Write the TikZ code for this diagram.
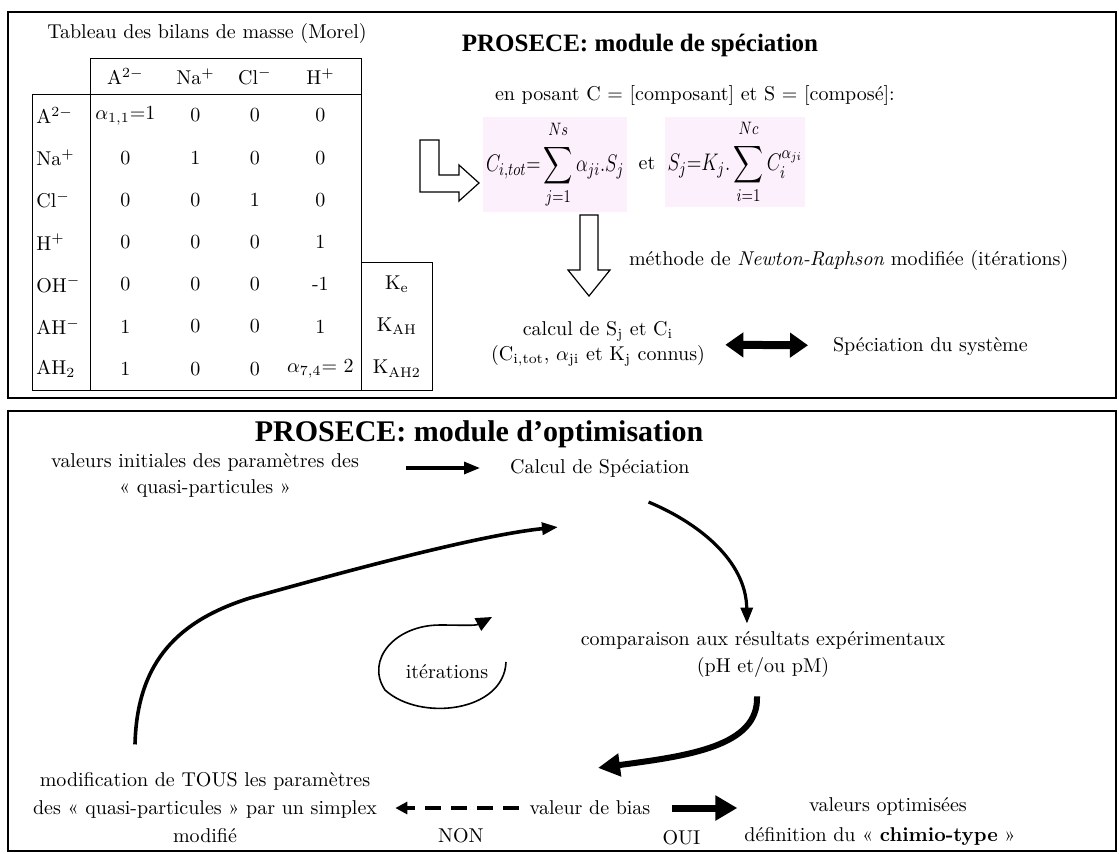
\documentclass[tikz,border=0pt]{standalone}
\usepackage{amsmath}
\usepackage{amssymb}
\usepackage{graphicx}
\usepackage{fontspec}
\newfontfamily\titlefont{Liberation Serif}
\usetikzlibrary{matrix}
\usetikzlibrary{arrows.meta}
\definecolor{formpink}{RGB}{252,240,252}

\begin{document}
\begin{tikzpicture}[x=0.5pt,y=-0.5pt,
  every node/.style={font=\fontsize{10}{13}\selectfont},
  txt/.style={inner sep=1pt, align=center},
  head/.style={font=\titlefont\bfseries\fontsize{15}{17}\selectfont},
  formula/.style={fill=formpink, inner sep=0pt, font=\fontsize{13}{15}\selectfont},
  hollow/.style={draw, line width=0.6pt, fill=white},
  flow/.style={-{Triangle[length=8pt,width=6pt]}, line width=1.6pt},
  fat/.style={-{Triangle[length=11pt,width=11pt]}, line width=3pt},
  oui/.style={-{Triangle[length=11pt,width=12pt]}, line width=3.5pt},
  both/.style={{Triangle[length=9pt,width=12pt]}-{Triangle[length=9pt,width=12pt]}, line width=4pt},
  nogo/.style={-{Triangle[length=6pt,width=6pt]}, line width=2.4pt, dash pattern=on 8pt off 5pt},
  turn/.style={-{Triangle[length=8pt,width=7pt]}, line width=0.8pt}]
  \useasboundingbox (0,0) rectangle (1119,853);
  \draw[line width=0.6pt] (8,12) rectangle (1116,398);
  \draw[line width=0.6pt] (8,411) rectangle (1116,851);

  % module de speciation
  \node (morel) at (207,33) {Tableau des bilans de masse (Morel)};
  \matrix (m) [matrix of nodes, anchor=north west, inner sep=0pt, row sep=0pt, column sep=0pt,
    nodes in empty cells,
    nodes={inner sep=2pt, minimum height=21.1pt, anchor=center},
    row 1/.style={nodes={minimum height=18pt}},
    column 1/.style={nodes={text width=25pt, align=left}},
    column 2/.style={nodes={minimum width=35pt}},
    column 3/.style={nodes={minimum width=35pt}},
    column 4/.style={nodes={minimum width=24.5pt}},
    column 5/.style={nodes={minimum width=41pt}},
    column 6/.style={nodes={minimum width=35.5pt}}] at (32,58)
  {
             & A$^{2-}$         & Na$^{+}$ & Cl$^{-}$ & H$^{+}$           &                 \\ % (1,1) .. (1,6)
    A$^{2-}$ & $\alpha_{1,1}$=1 & 0        & 0        & 0                 &                 \\
    Na$^{+}$ & 0                & 1        & 0        & 0                 &                 \\
    Cl$^{-}$ & 0                & 0        & 1        & 0                 &                 \\
    H$^{+}$  & 0                & 0        & 0        & 1                 &                 \\
    OH$^{-}$ & 0                & 0        & 0        & -1                & K$_\mathrm{e}$   \\ % (6,6)
    AH$^{-}$ & 1                & 0        & 0        & 1                 & K$_\mathrm{AH}$  \\
    AH$_2$   & 1                & 0        & 0        & $\alpha_{7,4}$= 2 & K$_\mathrm{AH2}$ \\ % (8,1) .. (8,6)
  };
  \draw (m-1-2.north west) -- (m-1-5.north east) -- (m-8-5.south east);
  \draw (m-1-2.north west) -- (m-8-2.south west);
  \draw (m-2-1.north west) -- (m-2-5.north east);
  \draw (m-2-1.north west) -- (m-8-1.south west) -- (m-8-6.south east) -- (m-6-6.north east) -- (m-6-6.north west);

  \draw[hollow] (420,140) -- (439,140) -- (439,175) -- (459,175) -- (459,165) -- (479,183)
    -- (459,201) -- (459,192) -- (420,192) -- cycle;

  \node[head, font=\titlefont\bfseries\fontsize{12.5}{15}\selectfont] (specT) at (640,45) {PROSECE: module de spéciation};
  \node[anchor=west] (pose) at (488,95) {en posant C = [composant] et S = [composé]:};
  \node[formula, minimum width=72pt, minimum height=47.5pt] (sumC) at (555,164.5)
    {\scalebox{0.78}[1]{$\displaystyle C_{i{,}tot}{=}\sum_{j=1}^{\raisebox{2pt}{$\scriptstyle Ns$}}\alpha_{ji}.S_j$}};
  \node (et) at (647,163) {et};
  \node[formula, minimum width=70pt, minimum height=45pt] (sumS) at (735,162)
    {\scalebox{0.8}[1]{$\displaystyle S_j{=}K_j.\sum_{i=1}^{\raisebox{2pt}{$\scriptstyle Nc$}}C_i^{\alpha_{ji}}$}};

  \draw[hollow] (580,215) -- (598,215) -- (598,270) -- (610,270) -- (589,296) -- (568,270) -- (580,270) -- cycle;
  \node[anchor=west] (newton) at (622,260) {méthode de \textit{Newton-Raphson} modifiée (itérations)};
  \node[txt, font=\fontsize{10}{12.5}\selectfont] (calc) at (598,344)
    {calcul de S$_\mathrm{j}$ et C$_\mathrm{i}$\\(C$_\mathrm{i,tot}$, $\alpha_\mathrm{ji}$ et K$_\mathrm{j}$ connus)};
  \node[anchor=west] (spec) at (826,346) {Spéciation du système};
  \draw[both, shorten <=9pt, shorten >=9pt] (calc) -- (spec);

  % module d'optimisation
  \node[head] (optT) at (479,434) {PROSECE: module d’optimisation};
  \node[txt] (init) at (205,475) {valeurs initiales des paramètres des\\« quasi-particules »};
  \node[anchor=west] (calc2) at (503,468) {Calcul de Spéciation};
  \draw[flow, shorten <=22.5pt, shorten >=11.5pt] (init.east |- calc2.west) -- (calc2.west);

  \node[txt, font=\fontsize{10}{13.5}\selectfont] (cmp) at (763,655)
    {comparaison aux résultats expérimentaux\\(pH et/ou pM)};
  \draw[flow] ([xshift=-24pt,yshift=-9pt]calc2.south east) .. controls +(48,20) and +(-1,-64)
    .. ([xshift=-8pt,yshift=3pt]cmp.north);

  \node (bias) at (590,808) {valeur de bias};
  \draw[fat] ([xshift=-3pt,yshift=-8pt]cmp.south) .. controls +(2,50) and +(90,-12)
    .. ([xshift=4pt,yshift=13pt]bias.north);

  \node[txt, font=\fontsize{10}{14}\selectfont] (modif) at (205,808)
    {modification de TOUS les paramètres\\des « quasi-particules » par un simplex\\modifié};
  \draw[nogo, shorten <=2pt, shorten >=8pt] (bias) -- node[xshift=5pt, yshift=-14pt] {NON} (modif);

  \node (optval) at (888,806) {valeurs optimisées};
  \node (optdef) at (880,836) {définition du « \textbf{chimio-type} »};
  \draw[oui, shorten <=7.5pt] (bias) -- node[pos=.3, yshift=-15pt] {OUI} (bias -| optdef.west);

  \draw[flow, line width=1.8pt] ([xshift=-35pt,yshift=13pt]modif.north) .. controls (137,660) and (180,620)
    .. (250,598) .. controls (350,570) and (480,535) .. ([xshift=27.5pt,yshift=-21.5pt]calc2.south west);

  \node (iter) at (447,672) {itérations};
  \draw[turn] (506,662) .. controls (504,712) and (420,722) .. (385,690)
    .. controls (365,660) and (395,625) .. (440,625) .. controls (460,625) and (475,626) .. (492,617);
\end{tikzpicture}
\end{document}
